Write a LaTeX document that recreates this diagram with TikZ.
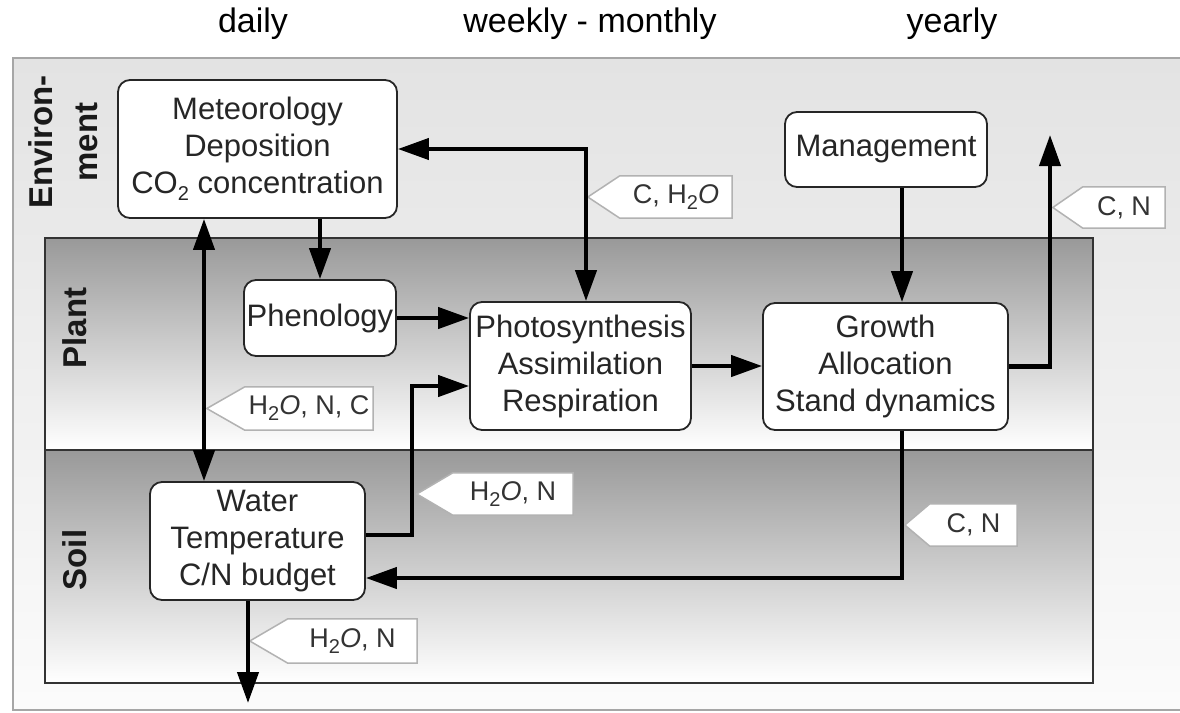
\documentclass[tikz,border=0pt]{standalone}
\usepackage{fontspec}
\setmainfont{Liberation Sans}
\usetikzlibrary{arrows.meta,calc}
\pgfdeclarelayer{back}
\pgfdeclarelayer{tagbg}
\pgfsetlayers{back,tagbg,main}
\newcommand\lowtwo{\raisebox{-0.42ex}{\fontsize{20}{20}\selectfont 2}}
\begin{document}
\begin{tikzpicture}[x=1pt,y=-1pt,
  box/.style={draw=black!85, line width=1.8pt, fill=white, rounded corners=12pt, align=center, inner sep=0pt, font=\fontsize{31}{37}\selectfont, text=black!85},
  flow/.style={line width=4.2pt, -{Triangle[length=31pt,width=21pt]}},
  biflow/.style={line width=4.2pt, {Triangle[length=31pt,width=21pt]}-{Triangle[length=31pt,width=21pt]}},
  tagtext/.style={inner sep=0pt, font=\fontsize{27}{30}\selectfont, text=black!80},
  tagshape/.style={draw=gray!60, line width=1.5pt, fill=white},
  head/.style={font=\fontsize{34}{40}\selectfont},
  side/.style={font=\bfseries\fontsize{33}{45}\selectfont, rotate=90, align=center, text=black!90},
  layer/.style={draw=black!80, line width=2pt, top color=gray!80, bottom color=white}
]
\useasboundingbox (0,0) rectangle (1180,712);

% backgrounds
\begin{pgfonlayer}{back}
  \fill[top color=gray!22, bottom color=white!97!gray] (13,58) rectangle (1180,710);
  \draw[gray!70, line width=2pt] (1180,58) -- (13,58) -- (13,710) -- (1180,710);
  \path[layer] (45,238) rectangle (1093,450);
  \path[layer] (45,450) rectangle (1093,683);
\end{pgfonlayer}

% headers
\node[head] (hdaily) at (253,24) {daily};
\node[head] (hweek) at (590,24) {weekly - monthly};
\node[head] (hyear) at (952,24) {yearly};

% side labels
\node[side] (lenv) at (63,142) {Environ-\\ment};
\node[side] (lplant) at (75,328) {Plant};
\node[side] (lsoil) at (75,560) {Soil};

% boxes
\node[box, minimum width=279pt, minimum height=138pt] (met) at (257.5,149) {Meteorology\\Deposition\\CO\lowtwo\ concentration};
\node[box, minimum width=152pt, minimum height=76pt] (phen) at (320,318) {Phenology};
\node[box, minimum width=221pt, minimum height=128pt] (photo) at (580.5,366) {Photosynthesis\\Assimilation\\Respiration};
\node[box, minimum width=245pt, minimum height=127pt] (growth) at (885.5,366.5) {Growth\\Allocation\\Stand dynamics};
\node[box, minimum width=202pt, minimum height=75pt] (mgmt) at (886,149.5) {Management};
\node[box, minimum width=215pt, minimum height=118pt] (water) at (257.5,541) {Water\\Temperature\\C/N budget};

% tags
\node[tagtext, minimum width=112pt, minimum height=42pt] (t1) at (676,197) {C, H\lowtwo\textit{O}};
\node[tagtext, minimum width=82pt, minimum height=41pt] (t2) at (1124,207.5) {C, N};
\node[tagtext, minimum width=128pt, minimum height=43pt] (t3) at (309,408.5) {H\lowtwo\textit{O}, N, C};
\node[tagtext, minimum width=120pt, minimum height=42pt] (t4) at (513,494) {H\lowtwo\textit{O}, N};
\node[tagtext, minimum width=87pt, minimum height=42pt] (t5) at (973.5,525) {C, N};
\node[tagtext, minimum width=129pt, minimum height=44pt] (t6) at (352.5,641) {H\lowtwo\textit{O}, N};
\begin{pgfonlayer}{tagbg}
  \foreach \t/\d in {t1/32,t2/30,t3/38,t4/36,t5/25,t6/38}{
    \draw[tagshape] (\t.north west) -- (\t.north east) -- (\t.south east) -- (\t.south west) -- ($(\t.west)+(-\d,0)$) -- cycle;
  }
\end{pgfonlayer}

% connectors
\coordinate (pm) at (586,149);
\draw[biflow] (met.east |- pm) -- (pm) -- (pm |- photo.north);
\draw[flow] (phen.north |- met.south) -- (phen.north);
\coordinate (mw) at (204,0);
\draw[biflow] (mw |- met.south) -- (mw |- water.north);
\draw[flow] (phen.east) -- (phen.east -| photo.west);
\coordinate (wp) at (412,535);
\coordinate (wp2) at (412,386);
\draw[flow] (water.east |- wp) -- (wp) -- (wp2) -- (wp2 -| photo.west);
\draw[flow] (photo.east) -- (photo.east -| growth.west);
\coordinate (mg) at (902,0);
\draw[flow] (mg |- mgmt.south) -- (mg |- growth.north);
\coordinate (gtop) at (1050,135);
\draw[flow] (growth.east) -- (growth.east -| gtop) -- (gtop);
\coordinate (gw) at (902,578);
\draw[flow] (gw |- growth.south) -- (gw) -- (gw -| water.east);
\coordinate (wd) at (248,703);
\draw[flow] (wd |- water.south) -- (wd);
\end{tikzpicture}
\end{document}
